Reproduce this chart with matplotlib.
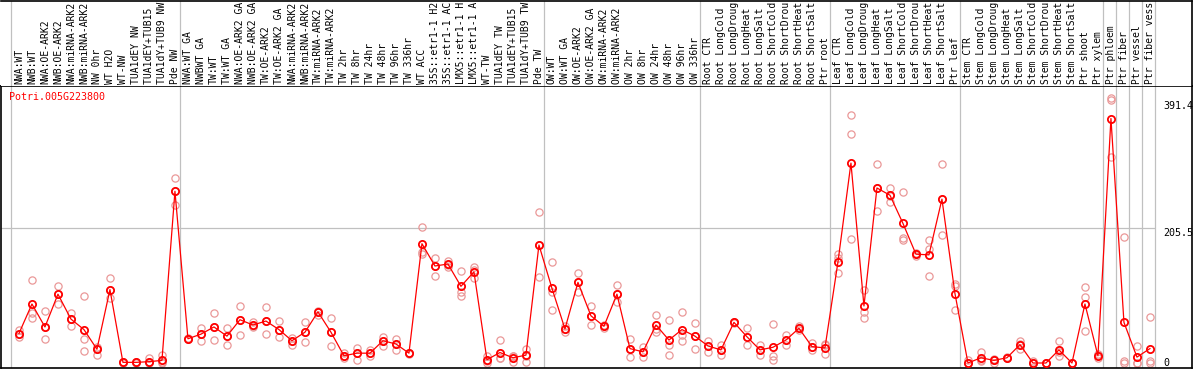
import matplotlib
matplotlib.use("Agg")
import matplotlib.pyplot as plt
from matplotlib.transforms import blended_transform_factory
import numpy as np

gene = "Potri.005G223800"

samples = [
    "NWA:WT", "NWB:WT", "NWA:OE-ARK2", "NWB:OE-ARK2", "NWA:miRNA-ARK2",
    "NWB:miRNA-ARK2", "NW 0hr", "WT H2O", "WT-NW", "TUA1dEY NW",
    "TUA1dEY+TUB15 NW", "TUA1dY+TUB9 NW", "Pde NW",
    "NWA:WT GA", "NWBWT GA", "TW:WT", "TW:WT GA", "NWA:OE-ARK2 GA",
    "NWB:OE-ARK2 GA", "TW:OE-ARK2", "TW:OE-ARK2 GA", "NWA:miRNA-ARK2 GA",
    "NWB:miRNA-ARK2 GA", "TW:miRNA-ARK2", "TW:miRNA-ARK2 GA", "TW 2hr",
    "TW 8hr", "TW 24hr", "TW 48hr", "TW 96hr", "TW 336hr", "WT ACC",
    "35S::etr1-1 H2O", "35S::etr1-1 ACC", "LMX5::etr1-1 H2O",
    "LMX5::etr1-1 ACC", "WT-TW", "TUA1dEY TW", "TUA1dEY+TUB15 TW",
    "TUA1dY+TUB9 TW", "Pde TW",
    "OW:WT", "OW:WT GA", "OW:OE-ARK2", "OW:OE-ARK2 GA", "OW:miRNA-ARK2",
    "OW:miRNA-ARK2 GA", "OW 2hr", "OW 8hr", "OW 24hr", "OW 48hr", "OW 96hr",
    "OW 336hr",
    "Root CTR", "Root LongCold", "Root LongDrought", "Root LongHeat",
    "Root LongSalt", "Root ShortCold", "Root ShortDrought", "Root ShortHeat",
    "Root ShortSalt", "Ptr root",
    "Leaf CTR", "Leaf LongCold", "Leaf LongDrought", "Leaf LongHeat",
    "Leaf LongSalt", "Leaf ShortCold", "Leaf ShortDrought", "Leaf ShortHeat",
    "Leaf ShortSalt", "Ptr leaf",
    "Stem CTR", "Stem LongCold", "Stem LongDrought", "Stem LongHeat",
    "Stem LongSalt", "Stem ShortCold", "Stem ShortDrought", "Stem ShortHeat",
    "Stem ShortSalt", "Ptr shoot", "Ptr xylem",
    "Ptr phloem", "Ptr fiber", "Ptr vessel", "Ptr fiber vessel",
]
group_sizes = [13, 28, 12, 10, 10, 11, 1, 1, 1, 1]

means = [
    45, 90, 55, 105, 67, 51, 21, 112, 1, 1, 2, 4, 262,
    37, 44, 55, 41, 66, 58, 64, 51, 34, 47, 78, 47, 11, 15, 15, 34, 29, 15,
    182, 148, 151, 117, 139, 5, 16, 8, 12, 180,
    114, 52, 123, 72, 56, 105, 22, 17, 58, 35, 51, 41,
    26, 20, 62, 40, 20, 24, 35, 53, 25, 23,
    154, 305, 87, 267, 256, 213, 166, 165, 250, 106,
    0, 8, 4, 8, 28, 0, 0, 20, 0, 90, 11,
    373, 62, 9, 22,
]

reps = [
    [50, 40, 45], [126, 77, 68], [79, 55, 37], [118, 105, 90], [77, 67, 57],
    [102, 36, 18], [25, 21, 12], [129, 112, 99], [0, 1, 2], [0, 1, 2],
    [7, 1, 0], [12, 1, 0], [283, 262, 241],
    [37, 36, 38], [53, 44, 33], [76, 55, 35], [54, 41, 27], [87, 66, 42],
    [62, 57, 55], [85, 64, 44], [64, 51, 40], [38, 34, 28], [62, 47, 32],
    [80, 78, 73], [68, 47, 26], [15, 11, 8], [23, 15, 4], [20, 15, 11],
    [40, 34, 26], [37, 29, 20], [16, 15, 14], [208, 170, 167],
    [160, 148, 133], [156, 150, 146], [140, 109, 102], [147, 142, 129],
    [11, 3, 0], [35, 7, 7], [11, 10, 2], [22, 11, 2], [230, 180, 131],
    [154, 108, 81], [57, 52, 47], [137, 123, 109], [87, 72, 58],
    [58, 56, 54], [119, 105, 93], [36, 22, 9], [25, 17, 9], [73, 52, 48],
    [66, 28, 12], [78, 42, 34], [61, 41, 21],
    [33, 26, 17], [28, 20, 12], [63, 62, 61], [53, 40, 28], [28, 20, 12],
    [60, 10, 5], [43, 35, 28], [56, 53, 50], [30, 24, 20], [29, 27, 14],
    [166, 160, 137], [378, 349, 189], [112, 78, 69], [304, 267, 232],
    [267, 255, 245], [261, 190, 187], [168, 166, 164], [188, 174, 133],
    [304, 250, 195], [120, 117, 81],
    [4, 0, 0], [17, 5, 3], [6, 4, 0], [9, 8, 7], [33, 29, 21], [3, 0, 0],
    [0, 0, 0], [33, 17, 11], [0, 0, 0], [116, 101, 49], [14, 12, 7],
    [405, 401, 315], [192, 3, 0], [26, 0, 0], [70, 3, 0],
]

yticks = [0, 205.5, 391.4]

# pixel layout of the original
W, H = 1194, 370
box_l, box_r = 1, 1192
sep_y, bot_y = 85.7, 368
cell, x_origin = 13.0, 10.5
mono = "DejaVu Sans Mono"
grid_col = "#c0c0c0"
rep_col = "#ea9898"
max_chars = 14   # the header only has room for this many characters

fig = plt.figure(figsize=(W / 100, H / 100), dpi=100)
ax = fig.add_axes([box_l / W, (H - bot_y) / H, (box_r - box_l) / W, (bot_y - sep_y) / H])
hdr = fig.add_axes([box_l / W, (H - sep_y) / H, (box_r - box_l) / W, (sep_y - 0.5) / H])

xlim = ((box_l - x_origin) / cell, (box_r - x_origin) / cell)
# 0 at y=363px, 205.5 at y=228.3px
ppu = (363 - 228.3) / 205.5
ax.set_ylim(-(bot_y - 363) / ppu, (363 - sep_y) / ppu)
for a in (ax, hdr):
    a.set_xlim(*xlim)
    a.set_xticks([])
    a.set_yticks([])
hdr.set_ylim(sep_y - 0.5, 0)

bounds = np.concatenate([[0], np.cumsum(group_sizes)])
for b in bounds:
    ax.axvline(b, color=grid_col, lw=0.9, zorder=1)
    hdr.axvline(b, color=grid_col, lw=0.9, zorder=1)
ax.hlines(yticks[1], xlim[0], bounds[-1], color=grid_col, lw=0.9, zorder=1)

x = np.arange(len(samples)) + 0.65
for xi, r in zip(x, reps):
    ax.plot([xi] * len(r), r, "o", ms=5.2, mfc="none", mec=rep_col, mew=0.9,
            zorder=2, clip_on=False)
ax.plot(x, means, "-", color="red", lw=0.9, zorder=3)
ax.plot(x, means, "o", ms=5.2, mfc="none", mec="red", mew=1.3, zorder=4, clip_on=False)

for xi, name in zip(x, samples):
    hdr.text(xi, 83, name[:max_chars], rotation=90, ha="center", va="bottom",
             family=mono, fontsize=7.0)

ax.text((9.5 - box_l) / (box_r - box_l), (bot_y - 97) / (bot_y - sep_y), gene,
        transform=ax.transAxes, color="red", family=mono, fontsize=7.2,
        ha="left", va="center")

tr = blended_transform_factory(ax.transAxes, ax.transData)
tick_va = ["center", "top", "center"]
for v, va in zip(yticks, tick_va):
    ax.text((1163 - box_l) / (box_r - box_l), v, f"{v:g}", transform=tr,
            family=mono, fontsize=7.2, ha="left", va=va)

for s in ax.spines.values():
    s.set_color("black")
    s.set_linewidth(1.2)
for side in ("left", "bottom"):
    hdr.spines[side].set_visible(False)
for side in ("top", "right"):
    hdr.spines[side].set_color("black")
    hdr.spines[side].set_linewidth(1.2)

fig.savefig("out.png", dpi=100)
